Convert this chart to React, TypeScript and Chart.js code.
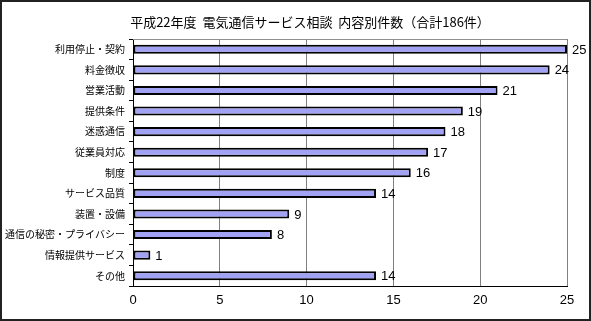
import React, { useEffect, useRef } from "react";
import { Chart, registerables } from "chart.js";

Chart.register(...registerables);

const TITLE = "平成22年度  電気通信サービス相談  内容別件数（合計186件）";
const categories = [
  "利用停止・契約",
  "料金徴収",
  "営業活動",
  "提供条件",
  "迷惑通信",
  "従業員対応",
  "制度",
  "サービス品質",
  "装置・設備",
  "通信の秘密・プライバシー",
  "情報提供サービス",
  "その他",
];
const counts = [25, 24, 21, 19, 18, 17, 16, 14, 9, 8, 1, 14];
const xTicks = [0, 5, 10, 15, 20, 25];

const JP = '"Noto Sans CJK JP", "Noto Sans", sans-serif';

const decorPlugin = {
  id: "decor",
  beforeDraw(chart: any) {
    const { ctx, width, height } = chart;
    ctx.save();
    ctx.fillStyle = "#ffffff";
    ctx.fillRect(0, 0, width, height);
    ctx.strokeStyle = "#222";
    ctx.lineWidth = 2;
    ctx.strokeRect(1, 1, width - 2, height - 2);
    ctx.restore();
  },
  afterDatasetsDraw(chart: any) {
    const { ctx, chartArea } = chart;
    ctx.save();
    ctx.strokeStyle = "#909090";
    ctx.lineWidth = 1;
    ctx.beginPath();
    ctx.moveTo(chartArea.left, chartArea.top + 0.5);
    ctx.lineTo(chartArea.right, chartArea.top + 0.5);
    ctx.stroke();
    const meta = chart.getDatasetMeta(0);
    ctx.fillStyle = "#000";
    ctx.font = '13px "Liberation Sans", Arial, sans-serif';
    ctx.textAlign = "left";
    ctx.textBaseline = "middle";
    meta.data.forEach((bar: any, i: number) => {
      ctx.fillText(String(counts[i]), bar.x + 5, bar.y + 1);
    });
    ctx.font = `13px ${JP}`;
    ctx.textAlign = "center";
    ctx.fillText(TITLE, 310, 22);
    ctx.restore();
  },
};

export default function App() {
  const ref = useRef<HTMLCanvasElement | null>(null);
  useEffect(() => {
    document.body.style.margin = "0";
    const chart = new Chart(ref.current as HTMLCanvasElement, {
      type: "bar",
      data: {
        labels: categories,
        datasets: [
          {
            data: counts,
            backgroundColor: "#a2a2f4",
            borderColor: "#000",
            borderWidth: 2,
            borderSkipped: false,
            barPercentage: 0.44,
            categoryPercentage: 1,
          },
        ],
      },
      plugins: [decorPlugin],
      options: {
        indexAxis: "y",
        animation: false,
        responsive: false,
        maintainAspectRatio: false,
        layout: { padding: { left: 0, right: 24, top: 39, bottom: 0 } },
        plugins: {
          legend: { display: false },
          tooltip: { enabled: false },
          title: { display: false },
        },
        scales: {
          x: {
            min: 0,
            max: 25,
            afterBuildTicks: (scale: any) => {
              scale.ticks = xTicks.map((v) => ({ value: v }));
            },
            afterFit: (scale: any) => {
              scale.height = 35;
            },
            grid: {
              color: (c: any) => (c.tick && c.tick.value === 0 ? "rgba(0,0,0,0)" : "#808080"),
              lineWidth: 1,
              drawTicks: false,
            },
            border: { color: "#000", width: 1 },
            ticks: {
              color: "#000",
              padding: 7,
              font: { size: 13, family: '"Liberation Sans", Arial, sans-serif' },
            },
          },
          y: {
            afterFit: (scale: any) => {
              scale.width = 133;
            },
            grid: {
              drawOnChartArea: false,
              drawTicks: true,
              tickLength: 4,
              color: "#000",
            },
            border: { color: "#000", width: 1 },
            ticks: {
              color: "#000",
              padding: 4,
              autoSkip: false,
              font: { size: 10, family: JP },
            },
          },
        },
      },
    } as any);
    return () => chart.destroy();
  }, []);
  return <canvas ref={ref} width={591} height={321} style={{ display: "block" }} />;
}
